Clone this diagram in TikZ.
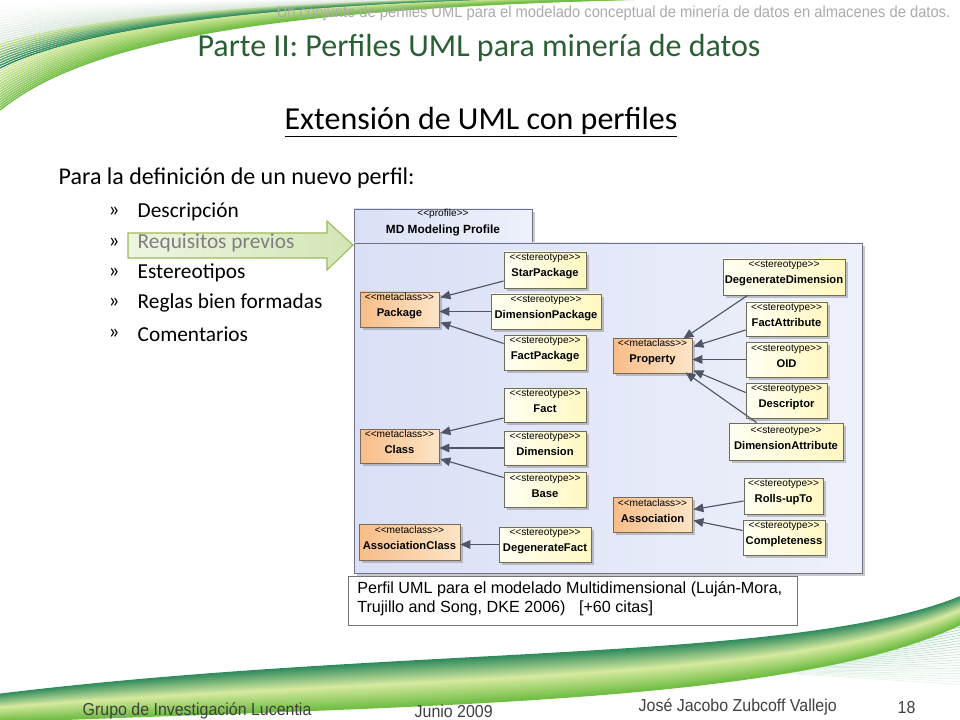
\documentclass[tikz,border=0pt]{standalone}
\usepackage{fontspec}
\setmainfont{Carlito}
\newfontfamily\arial{Liberation Sans}
\newfontfamily\narrow[FakeStretch=0.92]{Liberation Sans}
\usetikzlibrary{arrows.meta,shadows,fit,calc}
\definecolor{titlegreen}{HTML}{2A5E34}
\definecolor{hdrgray}{HTML}{ABABAB}
\definecolor{footgray}{HTML}{404040}
\definecolor{reqgray}{HTML}{7F7F7F}
\definecolor{agreenB}{HTML}{9BBB59}
\definecolor{agreenL}{HTML}{EEF5E2}
\definecolor{agreenR}{HTML}{D3E5B5}
\definecolor{pkgL}{HTML}{D9DFF5}
\definecolor{pkgR}{HTML}{EEF1FB}
\definecolor{pkgB}{HTML}{6E7088}
\definecolor{stL}{HTML}{FFFFF2}
\definecolor{stR}{HTML}{FFF8C2}
\definecolor{stB}{HTML}{6E6E58}
\definecolor{mtL}{HTML}{F7BD88}
\definecolor{mtR}{HTML}{FDE4C6}
\definecolor{mtB}{HTML}{7A6A58}
\definecolor{arrgray}{HTML}{4E5566}
\definecolor{swBright}{HTML}{72BE45}
\definecolor{swYel}{HTML}{D6EAA0}
\definecolor{swDark}{HTML}{2E8A5C}
\definecolor{swPale}{HTML}{DCE8DE}
\definecolor{swFan}{HTML}{9ED2B4}
\newcommand\stt[1]{<{}<#1>{}>}
\tikzset{
  umlshadow/.style={drop shadow={shadow xshift=2pt,shadow yshift=-2pt,opacity=0.35,fill=black!60}},
  stereo/.style={draw=stB,line width=0.6pt,left color=stL,right color=stR,inner sep=0pt,
     align=center,font=\arial,umlshadow},
  meta/.style={draw=mtB,line width=0.6pt,left color=mtL,right color=mtR,inner sep=0pt,
     align=center,font=\arial,umlshadow},
  pkgbox/.style={draw=pkgB,line width=0.7pt,left color=pkgL,right color=pkgR,inner sep=0pt,
     align=center,font=\arial,umlshadow},
  gen/.style={draw=arrgray,line width=0.85pt,-{Triangle[length=7.5pt,width=6.5pt]}},
  bulletmark/.style={anchor=west,font=\fontsize{16}{19}\selectfont},
  item/.style={anchor=west,font=\fontsize{16}{19}\selectfont},
  foot/.style={anchor=west,text=footgray,font=\narrow\fontsize{13}{15}\selectfont}
}
\newcommand\sm{\fontsize{7.6}{9.6}\selectfont}
\newcommand\bd{\fontsize{8.4}{10}\selectfont\bfseries}
\begin{document}
\begin{tikzpicture}[x=0.75pt,y=-0.75pt]
\useasboundingbox (0,0) rectangle (960,720);
\fill[white] (0,0) rectangle (960,720);

% ---------- top-left swoosh ----------
\foreach \i in {40,39,...,0}{
  \pgfmathsetmacro\t{\i/40}
  \ifnum\i<16
    \pgfmathtruncatemacro\p{100-\i*100/16}\colorlet{sw}{swBright!\p!swYel}
  \else\ifnum\i<26
    \pgfmathtruncatemacro\p{100-(\i-16)*10}\colorlet{sw}{swDark!\p!swYel}
  \else
    \pgfmathtruncatemacro\p{100-(\i-26)*7}\colorlet{sw}{swPale!\p!white}
  \fi\fi
  \draw[sw,line width=1.1pt] (0,{110-105*\t}) .. controls (80,{45-42*\t}) and (250,{8-7*\t}) .. ({645-250*\t},-1);
}

% ---------- bottom swoosh ----------
\foreach \i in {0,...,26}{
  \pgfmathtruncatemacro\p{100-\i*3}
  \colorlet{sw}{swFan!\p!white}
  \draw[sw,line width=0.6pt] (560,668) .. controls (700,666) and (820,{655+0.8*\i}) .. (965,{612+2.8*\i});
}
\foreach \i in {0,...,50}{
  \pgfmathsetmacro\t{\i/50}
  \ifnum\i<25
    \pgfmathtruncatemacro\p{100-\i*4}\colorlet{sw}{swDark!\p!swYel}
  \else
    \pgfmathtruncatemacro\p{(\i-25)*4}\colorlet{sw}{swBright!\p!swYel}
  \fi
  \draw[sw,line width=1.2pt] (-5,{695+27*\t}) .. controls (400,{645+60*\t}) and (800,{665+40*\t}) .. (965,{595+27*\t});
}

% ---------- header texts ----------
\node[anchor=east,text=hdrgray,font=\narrow\fontsize{12}{14}\selectfont] (hdr) at (955,13)
  {Un conjunto de perfiles UML para el modelado conceptual de minería de datos en almacenes de datos.};
\node[text=titlegreen,font=\fontsize{24}{28}\selectfont] (title) at (479,48)
  {Parte II: Perfiles UML para minería de datos};
\node[font=\fontsize{24}{28}\selectfont] (subtitle) at (481,122)
  {\underline{Extensión de UML con perfiles}};
\node[anchor=west,font=\fontsize{18}{21}\selectfont] (intro) at (54,178)
  {Para la definición de un nuevo perfil:};

% ---------- green arrow ----------
\path[draw=agreenB,line width=0.8pt,left color=agreenL,right color=agreenR]
  (128,233) -- (327,233) -- (327,221) -- (353,245) -- (327,270) -- (327,258) -- (128,258) -- cycle;

% ---------- bullets ----------
\foreach \y/\t/\c [count=\k] in {212/Descripción/black,243/Requisitos previos/reqgray,273/Estereotipos/black,303/Reglas bien formadas/black,334/Comentarios/black}{
  \node[bulletmark] (b\k) at (104,\y) {»};
  \node[item,text=\c] (it\k) at (133,\y) {\t};
}

% ---------- UML profile ----------
\node[pkgbox,fit={(354,209) (532,243)}] (tab) {{\sm\stt{profile}}\\[1pt]{\fontsize{8.9}{10}\selectfont\bfseries MD Modeling Profile}};
\node[pkgbox,fit={(354,243) (862,573)}] (body) {};

\node[stereo,fit={(504,252) (586,288)}] (starp) {{\sm\stt{stereotype}}\\{\bd StarPackage}};
\node[stereo,fit={(491,294) (601,329)}] (dimp) {{\sm\stt{stereotype}}\\{\bd DimensionPackage}};
\node[stereo,fit={(504,335) (586,370)}] (factp) {{\sm\stt{stereotype}}\\{\bd FactPackage}};
\node[meta,fit={(360,292) (439,327)}] (pkg) {{\sm\stt{metaclass}}\\{\bd Package}};

\node[stereo,fit={(504,388) (586,422)}] (fact) {{\sm\stt{stereotype}}\\{\bd Fact}};
\node[stereo,fit={(504,431) (586,465)}] (dim) {{\sm\stt{stereotype}}\\{\bd Dimension}};
\node[stereo,fit={(504,472) (586,507)}] (base) {{\sm\stt{stereotype}}\\{\bd Base}};
\node[meta,fit={(360,429) (439,463)}] (cls) {{\sm\stt{metaclass}}\\{\bd Class}};

\node[meta,fit={(359,524) (460,560)}] (asscls) {{\sm\stt{metaclass}}\\{\bd AssociationClass}};
\node[stereo,fit={(499,527) (591,562)}] (degfact) {{\sm\stt{stereotype}}\\{\bd DegenerateFact}};

\node[meta,fit={(613,338) (692,373)}] (prop) {{\sm\stt{metaclass}}\\{\bd Property}};
\node[stereo,fit={(723,259) (845,295)}] (degdim) {{\sm\stt{stereotype}}\\{\bd DegenerateDimension}};
\node[stereo,fit={(746,302) (827,336)}] (factattr) {{\sm\stt{stereotype}}\\{\bd FactAttribute}};
\node[stereo,fit={(746,342) (827,377)}] (oid) {{\sm\stt{stereotype}}\\{\bd OID}};
\node[stereo,fit={(746,383) (827,418)}] (desc) {{\sm\stt{stereotype}}\\{\bd Descriptor}};
\node[stereo,fit={(729,423) (843,460)}] (dimattr) {{\sm\stt{stereotype}}\\{\bd DimensionAttribute}};

\node[meta,fit={(613,497) (692,532)}] (assoc) {{\sm\stt{metaclass}}\\{\bd Association}};
\node[stereo,fit={(744,478) (823,514)}] (rolls) {{\sm\stt{stereotype}}\\{\bd Rolls-upTo}};
\node[stereo,fit={(743,520) (825,555)}] (compl) {{\sm\stt{stereotype}}\\{\bd Completeness}};

% connectors
\draw[gen] ($(starp.west)+(0,11)$) -- ($(pkg.east)+(1,-12)$);
\draw[gen] (dimp.west) -- (dimp.west -| pkg.east);
\draw[gen] ($(factp.west)+(0,-9)$) -- ($(pkg.east)+(1,13)$);
\draw[gen] ($(fact.west)+(0,13)$) -- ($(cls.east)+(1,-13)$);
\draw[gen] (dim.west) -- (dim.west -| cls.east);
\draw[gen] ($(base.west)+(0,-12)$) -- ($(cls.east)+(1,13)$);
\draw[gen] (degfact.west) -- (degfact.west -| asscls.east);
\draw[gen] ($(degdim.south west)+(25,0)$) -- ($(prop.north east)+(-9,1)$);
\draw[gen] ($(factattr.west)+(0,11)$) -- ($(prop.east)+(1,-9)$);
\draw[gen] (oid.west) -- (oid.west -| prop.east);
\draw[gen] ($(desc.west)+(0,-8)$) -- ($(prop.east)+(1,15)$);
\draw[gen] ($(dimattr.north west)+(28,0)$) -- ($(prop.south east)+(-7,-1)$);
\draw[gen] ($(rolls.west)+(0,5)$) -- ($(assoc.east)+(1,-5)$);
\draw[gen] ($(compl.west)+(0,-7)$) -- ($(assoc.east)+(1,6)$);

% caption
\node[draw=black!55,fill=white,line width=0.6pt,inner sep=0pt,fit={(348,576) (797,625)}] (cap) {};
\node[anchor=north west,align=left,inner sep=0pt,font=\arial\fontsize{12.1}{14.3}\selectfont] (captext) at (357,581)
  {Perfil UML para el modelado Multidimensional (Luján-Mora,\\Trujillo and Song, DKE 2006)\ \ \ [+60 citas]};

% ---------- footer ----------
\node[foot] (f1) at (78,711) {Grupo de Investigación Lucentia};
\node[foot] (f2) at (410,711) {Junio 2009};
\node[foot] (f3) at (634,707) {José Jacobo Zubcoff Vallejo};
\node[foot] (f4) at (893,708) {18};
\end{tikzpicture}
\end{document}
